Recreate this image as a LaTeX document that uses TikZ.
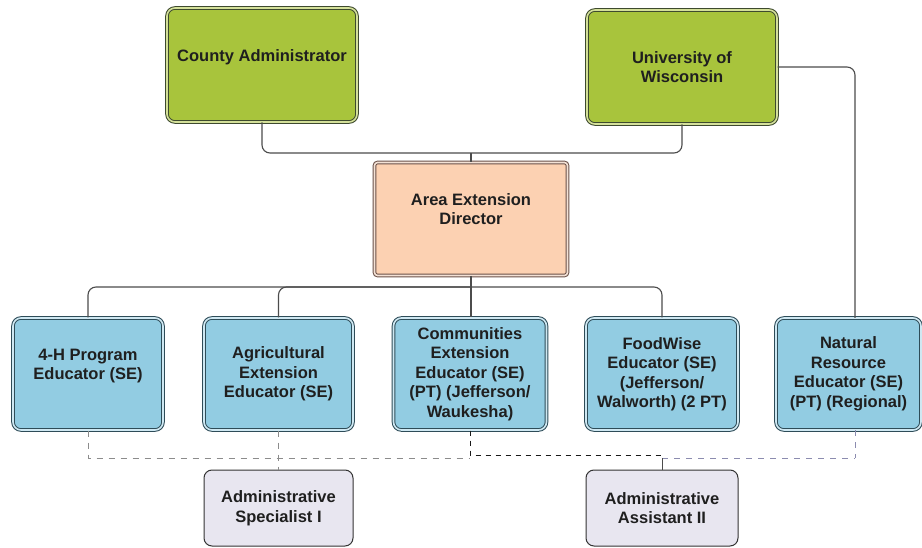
\documentclass[tikz,border=0pt]{standalone}
\usepackage{fontspec}
\setmainfont{Liberation Sans}
\definecolor{gfill}{HTML}{A8C43C}
\definecolor{gline}{HTML}{3E4A2E}
\definecolor{ggap}{HTML}{D4E09A}
\definecolor{ofill}{HTML}{FCD1B2}
\definecolor{oline}{HTML}{6A5048}
\definecolor{ogap}{HTML}{F4E2D6}
\definecolor{bfill}{HTML}{92CCE2}
\definecolor{bline}{HTML}{2E4C58}
\definecolor{bgap}{HTML}{CFE8F2}
\definecolor{lfill}{HTML}{E8E6F0}
\begin{document}
\begin{tikzpicture}[x=1pt,y=-1pt,
  every node/.style={font=\bfseries\fontsize{16.5}{19.5}\selectfont, text=black!88, align=center, inner sep=2pt},
  box/.style={rectangle, rounded corners=8pt, line width=1pt, double distance=1.6pt},
  greenbox/.style={box, draw=gline, double=ggap, fill=gfill, minimum width=190pt, minimum height=114pt},
  orangebox/.style={box, rounded corners=3pt, draw=oline, double=ogap, fill=ofill, minimum width=193pt, minimum height=113pt},
  bluebox/.style={box, draw=bline, double=bgap, fill=bfill, minimum height=112pt},
  lavbox/.style={rectangle, rounded corners=8pt, draw=black!80, line width=1pt, fill=lfill, minimum height=76pt},
  conn/.style={draw=black!70, line width=1.1pt, rounded corners=8pt},
  dgray/.style={draw=black!45, line width=1pt, dash pattern=on 6pt off 6pt},
  dblack/.style={draw=black!90, line width=1pt, dash pattern=on 5pt off 5pt},
  dblue/.style={draw=blue!30!black!45, line width=1pt, dash pattern=on 6pt off 6pt}
]
\useasboundingbox (0,0) rectangle (922,548);
\fill[white] (0,0) rectangle (922,548);

% top level
\node[greenbox] (ca) at (262,65) {County Administrator\\ \mbox{}};
\node[greenbox] (uw) at (682,67) {University of\\Wisconsin};
\node[orangebox] (aed) at (471,219) {Area Extension\\Director\\ \mbox{}};

% educators
\node[bluebox, minimum width=150pt] (h4) at (88,374) {4-H Program\\Educator (SE)\\ \mbox{}};
\node[bluebox, minimum width=149pt] (ag) at (278.5,374) {Agricultural\\Extension\\Educator (SE)};
\node[bluebox, minimum width=153pt] (cm) at (470,374) {Communities\\Extension\\Educator (SE)\\(PT) (Jefferson/\\Waukesha)};
\node[bluebox, minimum width=152pt] (fw) at (662,374) {FoodWise\\Educator (SE)\\(Jefferson/\\Walworth) (2 PT)};
\node[bluebox, minimum width=145pt] (nr) at (848.5,374) {Natural\\Resource\\Educator (SE)\\(PT) (Regional)};

% admin
\node[lavbox, minimum width=149pt] (as) at (278.5,508) {Administrative\\Specialist I};
\node[lavbox, minimum width=152pt] (aa) at (662,508) {Administrative\\Assistant II};

% coordinates
\coordinate (topbus) at (471,153);
\coordinate (nrtop) at (855,318);
\coordinate (nrbot) at (855,430);
\coordinate (edbus) at (471,287);
\coordinate (lowbus) at (0,458);

% upper connectors
\draw[conn] (ca.south) |- (topbus) -| (uw.south);
\draw[conn] (aed.north) -- (topbus);
\draw[conn] (uw.east) -| (nrtop);

% educator bus
\draw[conn] (h4.north) |- (edbus) -| (fw.north);
\draw[conn] (ag.north) |- (edbus);
\draw[conn] (aed.south) -- (aed.south |- cm.north);

% dashed admin bus
\draw[dgray] (h4.south) -- (h4.south |- lowbus) -- (cm.south |- lowbus);
\draw[dgray] (ag.south) -- (as.north);
\draw[dblack] (cm.south) -- ([yshift=3pt]cm.south |- lowbus) -- ([yshift=3pt]aa.north |- lowbus);
\draw[dblue] (aa.north |- lowbus) -- (nrbot |- lowbus);
\draw[dblue] (nrbot) -- (nrbot |- lowbus);
\draw[conn, line width=0.9pt] (aa.north) -- (aa.north |- lowbus);
\end{tikzpicture}
\end{document}
